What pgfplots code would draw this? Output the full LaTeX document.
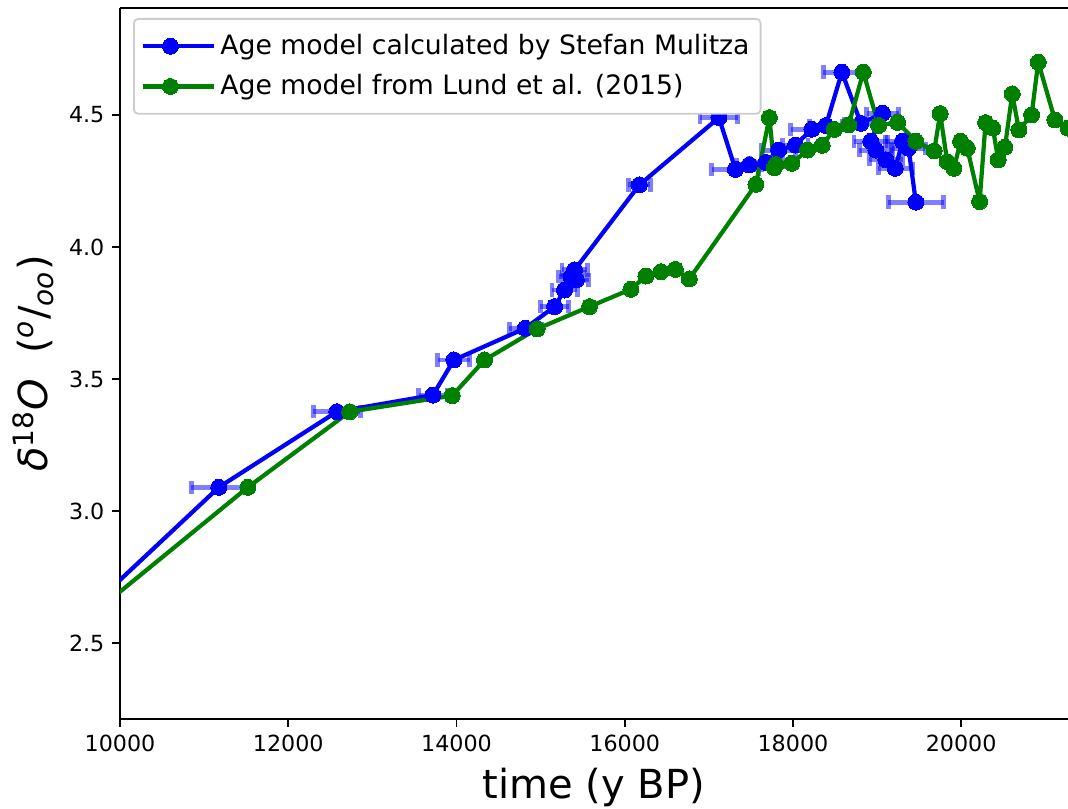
\documentclass[border=0pt]{standalone}
\usepackage{fontspec}
\setmainfont{DejaVu Sans}
\usepackage{pgfplots}
\pgfplotsset{compat=1.18}
\usepackage{pgfplotstable}

% age model after Mulitza, with age uncertainty (ex)
\pgfplotstableread{
x y ex
9000 2.440 0
11175 3.090 330
12577 3.376 280
13720 3.439 170
13969 3.572 190
14817 3.692 190
15166 3.774 170
15285 3.837 150
15364 3.887 150
15424 3.875 150
15404 3.913 150
16174 4.235 130
17120 4.490 225
17316 4.294 280
17482 4.311 150
17680 4.320 200
17830 4.367 200
18029 4.386 150
18225 4.446 250
18392 4.460 200
18582 4.662 220
18808 4.468 200
19065 4.506 190
18926 4.400 200
18986 4.367 200
19105 4.330 200
19216 4.298 200
19303 4.400 200
19374 4.374 200
19461 4.170 330
}\mulitza

% age model from Lund et al. (2015)
\pgfplotstableread{
x y
9000 2.434
11520 3.090
12731 3.376
13950 3.437
14334 3.572
14960 3.690
15581 3.774
16074 3.840
16252 3.890
16431 3.906
16602 3.915
16768 3.879
17560 4.237
17720 4.490
17779 4.300
17800 4.312
17987 4.317
18173 4.367
18348 4.385
18492 4.445
18662 4.462
18836 4.662
19018 4.460
19244 4.472
19462 4.400
19679 4.364
19750 4.505
19834 4.323
19914 4.298
19993 4.400
20072 4.374
20219 4.172
20290 4.471
20377 4.450
20440 4.330
20520 4.378
20607 4.580
20686 4.443
20837 4.500
20916 4.700
21114 4.481
21270 4.450
21450 4.440
}\lund

\begin{document}
\begin{tikzpicture}
\begin{axis}[
  name=ax,
  scale only axis, width=426.6pt, height=320pt,
  xmin=10000, xmax=21270, ymin=2.212, ymax=4.905,
  axis x line=box, axis y line=left,
  axis line style={-, line width=0.8pt, black},
  xtick pos=left, ytick pos=left,
  tick align=outside, major tick length=3.5pt,
  tick style={line width=0.8pt, black},
  xtick={10000,12000,...,20000},
  ytick={2.5,3.0,3.5,4.0,4.5},
  scaled x ticks=false,
  xticklabel style={/pgf/number format/1000 sep={}},
  yticklabel style={/pgf/number format/.cd, fixed, fixed zerofill, precision=1},
  /pgf/number format/assume math mode=true,
  ticklabel style={font=\fontsize{10}{12}\selectfont},
  xlabel={time (y BP)},
  ylabel={\textit{δ}\textsuperscript{18}\textit{O}\ \ (\textsuperscript{\textit{o}}/\textsubscript{\textit{oo}})},
  label style={font=\fontsize{18}{21.6}\selectfont},
  xlabel style={at={(axis description cs:0.5,-0.0956)}, anchor=center},
  ylabel style={at={(axis description cs:-0.0918,0.5)}, anchor=center},
  legend image code/.code={%
    \draw[mark repeat=2, mark phase=2] plot coordinates {(0pt,0pt) (12.5pt,0pt) (25pt,0pt)};
    \path (0pt,0pt) -- (32pt,0pt);},
  legend style={at={(axis description cs:0,1)}, anchor=north west,
    xshift=5.85pt, yshift=-4.5pt, draw=black!20, line width=0.8pt,
    rounded corners=2pt, fill=white,
    font=\fontsize{12}{14.4}\selectfont,
    inner xsep=3pt, inner ysep=5pt, row sep=3.5pt},
  legend cell align=left,
  line join=round,
]
% error bars first, so the markers sit on top
\addplot[forget plot, only marks, mark=none,
  error bars/.cd, x dir=both, x explicit,
  error bar style={line width=2.2pt, draw=blue, opacity=0.5},
  error mark options={rotate=90, mark size=3pt, line width=2.2pt, draw=blue, opacity=0.5}]
  table[x=x, y=y, x error=ex]{\mulitza};
\addplot[blue, line width=1.9pt, mark=*, mark size=3.6pt, mark options={solid, fill=blue, draw=blue, line width=0pt}]
  table[x=x, y=y]{\mulitza};
\addlegendentry{Age model calculated by Stefan Mulitza}
\addplot[green!50!black, line width=1.9pt, mark=*, mark size=3.6pt, mark options={solid, fill=green!50!black, draw=green!50!black, line width=0pt}]
  table[x=x, y=y]{\lund};
\addlegendentry{Age model from Lund et al. (2015)}
\end{axis}
\pgfresetboundingbox
\path ([xshift=-54pt, yshift=-40.05pt]ax.south west) rectangle ([yshift=3.6pt]ax.north east);
\end{tikzpicture}
\end{document}
